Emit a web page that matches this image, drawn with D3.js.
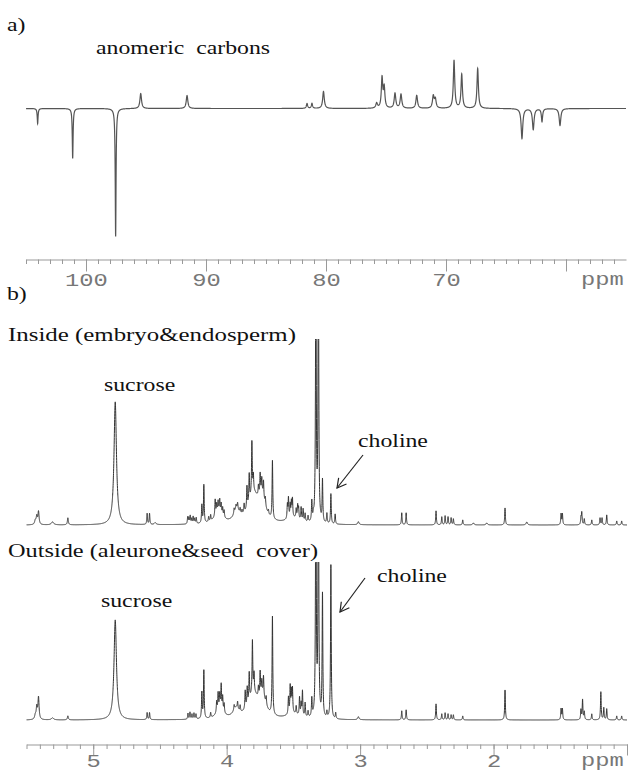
<!DOCTYPE html>
<html>
<head>
<meta charset="utf-8">
<script src="https://cdn.jsdelivr.net/npm/d3@7"></script>
<style>
  body { margin: 0; background: #fff; }
  svg { display: block; }
  .serif { font-family: "Liberation Serif", "Times New Roman", serif; font-size: 19px; fill: #111; white-space: pre; }
  .mono { font-family: "Liberation Mono", "Courier New", monospace; font-size: 19px; fill: #777; }
</style>
</head>
<body>
<svg class="chart" width="630" height="772"></svg>
<script>
// peaks: [ppm, intensity, half width (ppm)]
var carbonPeaks = [
    [104.03, -15, 0.04], [101.11, -50, 0.04], [97.53, -128, 0.04],
    [95.44, 15, 0.08], [91.58, 13, 0.08],
    [81.58, 5, 0.06], [81.17, 5, 0.06], [80.21, 17, 0.08],
    [75.78, 5, 0.08], [75.33, 30, 0.07], [75.15, 20, 0.07],
    [74.25, 15, 0.08], [73.75, 14, 0.08], [72.44, 13, 0.08],
    [71.06, 12, 0.08], [70.89, 9, 0.08],
    [69.33, 48, 0.07], [68.69, 34, 0.07], [67.36, 40, 0.07],
    [63.67, -30, 0.08], [62.73, -21, 0.08], [62.00, -13, 0.06], [60.50, -17, 0.08]
]

var insidePeaks = [
    [5.434, 4, 0.006], [5.423, 8, 0.005], [5.410, 13, 0.005],
    [5.305, 3, 0.01], [5.190, 7, 0.004],
    [4.835, 123, 0.011],
    [4.596, 11], [4.578, 11], [4.536, 2, 0.008],
    [4.292, 7], [4.283, 6], [4.273, 8], [4.262, 5], [4.251, 7], [4.240, 5], [4.228, 6],
    [4.186, 18], [4.171, 38], [4.135, 5], [4.120, 6],
    // broad hump under the sugar region
    [4.060, 12, 0.035], [3.925, 12, 0.025], [3.800, 28, 0.045], [3.735, 22, 0.03], [3.500, 6, 0.06],
    [4.086, 16], [4.075, 9], [4.064, 10], [4.052, 12], [4.041, 10], [4.030, 8], [4.019, 7],
    [3.944, 5], [3.930, 4], [3.918, 6], [3.899, 5], [3.885, 4],
    [3.869, 9], [3.848, 22], [3.831, 28], [3.811, 52], [3.800, 16],
    [3.762, 10], [3.749, 20], [3.737, 14], [3.724, 16], [3.710, 8],
    [3.687, 4], [3.657, 58],
    [3.545, 14], [3.537, 20], [3.524, 13], [3.515, 15], [3.507, 18],
    [3.479, 9], [3.468, 13], [3.461, 11], [3.442, 13], [3.427, 12], [3.412, 8], [3.390, 6],
    [3.362, 20], [3.350, 5],
    [3.3315, 300], [3.3125, 300],
    [3.282, 42], [3.249, 10], [3.219, 30], [3.187, 10],
    [3.013, 3, 0.006],
    [2.688, 12], [2.655, 12],
    [2.431, 14], [2.388, 8], [2.363, 9], [2.341, 8], [2.318, 7], [2.301, 6],
    [2.231, 5], [2.151, 2, 0.006], [2.051, 2, 0.006],
    [1.914, 17], [1.751, 3, 0.006],
    [1.494, 11], [1.484, 11],
    [1.345, 7], [1.339, 12], [1.320, 6], [1.264, 5],
    [1.202, 7], [1.187, 7], [1.152, 10],
    [1.077, 4], [1.040, 4]
]

var outsidePeaks = [
    [5.434, 4, 0.006], [5.423, 12, 0.005], [5.410, 22, 0.005],
    [5.305, 2, 0.01], [5.190, 4, 0.004],
    [4.835, 100, 0.011],
    [4.596, 7], [4.578, 7],
    [4.290, 6], [4.275, 7], [4.260, 5], [4.245, 6], [4.230, 5],
    [4.186, 26], [4.171, 48], [4.120, 5],
    [4.050, 10, 0.03], [3.930, 9, 0.025], [3.800, 24, 0.045], [3.730, 18, 0.03], [3.500, 5, 0.06],
    [4.075, 11], [4.064, 17], [4.052, 14], [4.041, 24], [4.030, 14], [4.019, 9],
    [3.944, 5], [3.918, 7], [3.899, 6],
    [3.861, 18], [3.846, 18], [3.831, 28], [3.807, 52], [3.795, 18],
    [3.762, 10], [3.749, 24], [3.737, 13], [3.724, 19], [3.704, 8],
    [3.657, 98],
    [3.537, 17], [3.524, 27], [3.515, 21], [3.507, 24],
    [3.479, 8], [3.454, 18], [3.442, 12], [3.432, 25], [3.412, 14], [3.390, 6],
    [3.362, 18],
    [3.3315, 300], [3.3125, 300],
    [3.282, 123], [3.249, 6], [3.219, 154], [3.183, 6],
    [3.013, 3, 0.006],
    [2.688, 9], [2.655, 10],
    [2.431, 16], [2.388, 6], [2.363, 7], [2.341, 6], [2.318, 5], [2.301, 5],
    [2.231, 4],
    [1.914, 30],
    [1.494, 11], [1.484, 11],
    [1.345, 10], [1.333, 20], [1.320, 8], [1.264, 6],
    [1.196, 28], [1.174, 12], [1.152, 11],
    [1.077, 4], [1.040, 4]
]

var carbonTicks = [100, 90, 80, 70, 60]
var carbonLabels = [100, 90, 80, 70]
var protonTicks = [5, 4, 3, 2, 1]
var protonLabels = [5, 4, 3, 2]

var chart = d3.select(".chart")

var xa = d3.scaleLinear().domain([105, 55]).range([26, 626])
var ya = d3.scaleLinear().domain([-130, 60]).range([238.5, 48.5])
var xb = d3.scaleLinear().domain([5.5, 1.0]).range([26.5, 627])
var yIn = d3.scaleLinear().domain([0, 200]).range([525, 325])
var yOut = d3.scaleLinear().domain([0, 200]).range([720, 520])

// sum of lorentzian lines at a given shift
function spectrum(peaks, lo, hi, step, w0) {
    return d3.range(lo, hi, step).map(p => {
        var v = 0
        peaks.forEach(k => {
            var w = k[2] || w0
            var t = (p - k[0]) / w
            v += k[1] / (1 + t * t)
        })
        return [p, v]
    })
}

// text is stretched sideways like in the original figure
function label(x, y, str, cls, len) {
    var t = chart.append("text")
        .attr("class", cls)
        .attr("transform", `translate(${x},${y}) scale(1.25,1)`)
        .text(str)
    if (len) t.attr("textLength", len / 1.25).attr("lengthAdjust", "spacingAndGlyphs")
}

// clip tall lines at the top of each trace
var defs = chart.append("defs")
defs.append("clipPath").attr("id", "clipIn")
    .append("rect").attr("x", 0).attr("y", 339).attr("width", 630).attr("height", 200)
defs.append("clipPath").attr("id", "clipOut")
    .append("rect").attr("x", 0).attr("y", 562).attr("width", 630).attr("height", 170)
defs.append("marker").attr("id", "head")
    .attr("markerUnits", "userSpaceOnUse")
    .attr("markerWidth", 14).attr("markerHeight", 14)
    .attr("refX", 10).attr("refY", 6).attr("orient", "auto")
    .append("path").attr("d", "M1,1 L10,6 L1,11")
    .attr("fill", "none").attr("stroke", "#222").attr("stroke-width", 1.2)

// panel a
chart.append("path")
    .datum(spectrum(carbonPeaks, 55, 105, 0.005, 0.08))
    .attr("fill", "none").attr("stroke", "#555").attr("stroke-width", 1.2)
    .attr("d", d3.line().x(d => xa(d[0])).y(d => ya(d[1])))

// panel b
chart.append("path")
    .datum(spectrum(insidePeaks, 1.0, 5.5, 0.0005, 0.003))
    .attr("clip-path", "url(#clipIn)")
    .attr("fill", "none").attr("stroke", "#333").attr("stroke-width", 1)
    .attr("d", d3.line().x(d => xb(d[0])).y(d => yIn(d[1])))

chart.append("path")
    .datum(spectrum(outsidePeaks, 1.0, 5.5, 0.0005, 0.003))
    .attr("clip-path", "url(#clipOut)")
    .attr("fill", "none").attr("stroke", "#333").attr("stroke-width", 1)
    .attr("d", d3.line().x(d => xb(d[0])).y(d => yOut(d[1])))

// axes: minor ticks, then major ticks with labels
function drawAxis(scale, y, minor, major, labels, bigTick, pad, dy) {
    var g = chart.append("g").attr("transform", `translate(0,${y})`)
    g.append("g")
        .call(d3.axisBottom(scale).tickValues(minor).tickSize(4.5).tickSizeOuter(0).tickFormat(""))
    var m = g.append("g")
        .call(d3.axisBottom(scale).tickValues(major).tickSize(bigTick).tickSizeOuter(0).tickPadding(pad)
            .tickFormat(d => labels.includes(d) ? d : ""))
    m.select(".domain").remove()
    m.attr("font-family", '"Liberation Mono", "Courier New", monospace').attr("font-size", 19)
    m.selectAll("text").attr("fill", "#777").attr("dy", dy).attr("transform", "scale(1.25,1)")
    g.selectAll("line, path").attr("stroke", "#999")
}

drawAxis(xa, 259.5, d3.range(56, 106, 1), carbonTicks, carbonLabels, 12, 1, "0.71em")
drawAxis(xb, 744.5, d3.range(10, 56, 1).map(d => d / 10), protonTicks, protonLabels, 11, 0, "0.6em")

label(581, 285, "ppm", "mono")
label(581, 766, "ppm", "mono")

// texts
label(7, 31, "a)", "serif")
label(96, 54, "anomeric  carbons", "serif")
label(7, 300, "b)", "serif")
label(8, 341, "Inside (embryo&endosperm)", "serif", 288)
label(104, 391, "sucrose", "serif")
label(358, 447, "choline", "serif")
label(8, 557, "Outside (aleurone&seed  cover)", "serif", 310)
label(101, 607, "sucrose", "serif")
label(377, 582, "choline", "serif")

// arrows toward the choline line
chart.append("line").attr("x1", 363).attr("y1", 455).attr("x2", 337).attr("y2", 488)
    .attr("stroke", "#222").attr("stroke-width", 1.2).attr("marker-end", "url(#head)")
chart.append("line").attr("x1", 365).attr("y1", 578).attr("x2", 340).attr("y2", 612)
    .attr("stroke", "#222").attr("stroke-width", 1.2).attr("marker-end", "url(#head)")
</script>
</body>
</html>
